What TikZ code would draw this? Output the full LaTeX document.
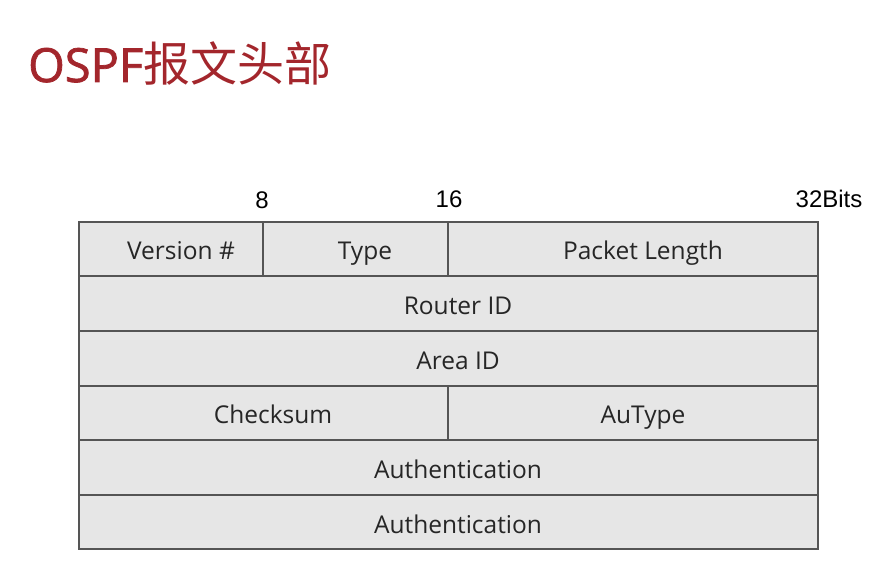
\documentclass[tikz,border=0pt]{standalone}
\usepackage{fontspec}
\setmainfont{Open Sans}
\newfontfamily\cjk{Noto Sans CJK SC}
\newfontfamily\arial{Liberation Sans}
\newfontfamily\titlefont[FakeBold=1.6]{Open Sans}
\definecolor{titlered}{HTML}{A3262C}
\definecolor{cellfill}{HTML}{E6E6E6}
\definecolor{cellline}{HTML}{555555}
\begin{document}
\begin{tikzpicture}[x=1pt,y=-1pt,
  cell/.style={draw=cellline,fill=cellfill,line width=1.2pt},
  celltext/.style={font=\fontsize{24.5}{28}\selectfont,text=black!85,inner sep=0pt,anchor=base},
  bitlabel/.style={font=\arial\fontsize{24}{28}\selectfont,text=black,inner sep=0pt,anchor=base}]
\useasboundingbox (0,0) rectangle (874,588);
\node[anchor=base west,inner sep=0pt,text=titlered,font=\fontsize{47}{50}\selectfont] (title) at (28,82) {{\titlefont OSPF}{\cjk 报文头部}};
% rows
\draw[cell] (79,222) rectangle (263,276);
\draw[cell] (263,222) rectangle (448,276);
\draw[cell] (448,222) rectangle (818,276);
\draw[cell] (79,276) rectangle (818,331);
\draw[cell] (79,331) rectangle (818,386);
\draw[cell] (79,386) rectangle (448,440);
\draw[cell] (448,386) rectangle (818,440);
\draw[cell] (79,440) rectangle (818,495);
\draw[cell] (79,495) rectangle (818,549);
\node[celltext] (ver) at (181,259) {Version \#};
\node[celltext] (type) at (365,259) {Type};
\node[celltext] (plen) at (643,259) {Packet Length};
\node[celltext] (rid) at (458,314) {Router ID};
\node[celltext] (aid) at (458,369) {Area ID};
\node[celltext] (cks) at (273,423) {Checksum};
\node[celltext] (aut) at (643,423) {AuType};
\node[celltext] (auth1) at (458,478) {Authentication};
\node[celltext] (auth2) at (458,533) {Authentication};
\node[bitlabel] (b8) at (262,208) {8};
\node[bitlabel] (b16) at (449,207) {16};
\node[bitlabel] (b32) at (829,207) {32Bits};
\end{tikzpicture}
\end{document}
